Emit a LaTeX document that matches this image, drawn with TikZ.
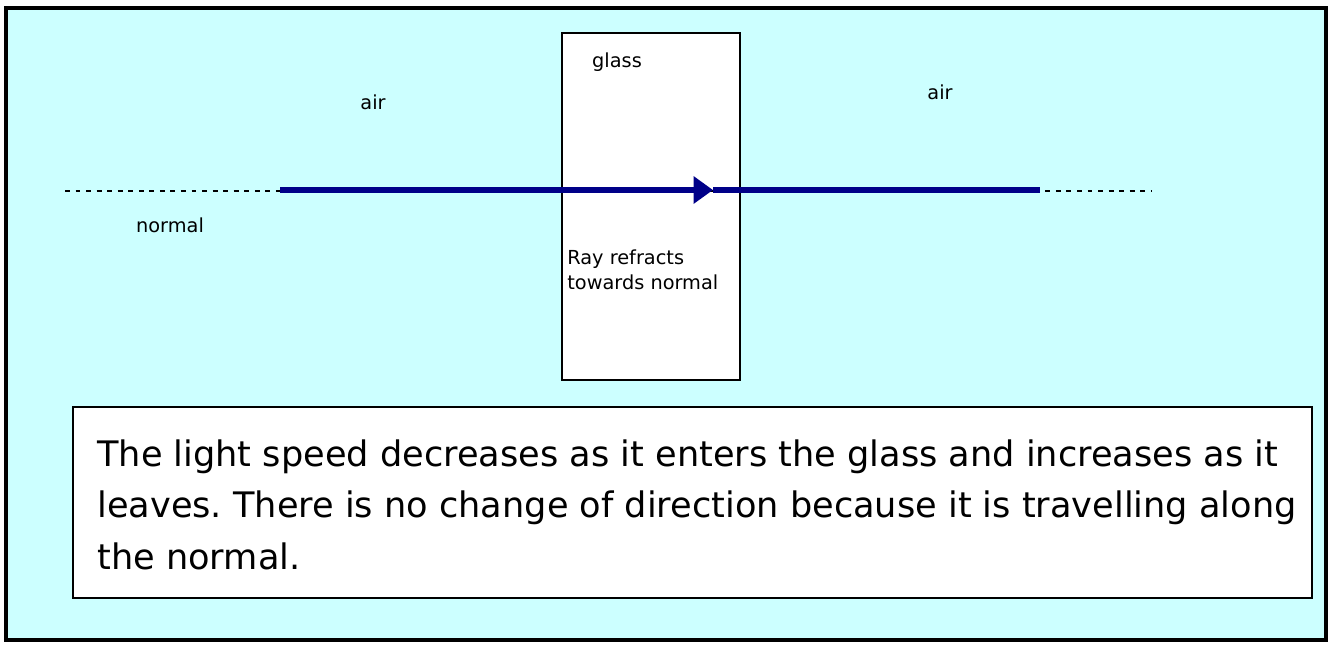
\documentclass[tikz,border=0pt]{standalone}
\usepackage{fontspec}
\setmainfont{DejaVu Sans}
\usetikzlibrary{arrows.meta}
\definecolor{bgCyan}{RGB}{204,255,255}
\definecolor{rayNavy}{RGB}{0,0,136}

\begin{document}
\begin{tikzpicture}[
    x=0.02cm, y=-0.02cm,
    frame/.style={draw=black, line width=1.8pt, fill=bgCyan},
    slab/.style={rectangle, draw=black, line width=1.4pt, fill=white, minimum width=3.56cm, minimum height=6.94cm},
    note/.style={rectangle, draw=black, line width=1.4pt, fill=white, minimum width=24.78cm, minimum height=3.82cm},
    normalline/.style={draw=black, line width=1.5pt, dash pattern=on 2.8pt off 3.2pt},
    ray/.style={draw=rayNavy, line width=3.4pt},
    label/.style={font=\fontsize{11}{14}\selectfont, inner sep=0pt}
]
\useasboundingbox (0,0) rectangle (1331,646);
% Background
\draw[frame] (6,8) rectangle (1326,640);

% Nodes
\node[slab] (glass) at (651,206.5) {};
\node[note] (box) at (692.5,502.5) {};

% Labels
\node[label] (airL) at (373,102) {air};
\node[label] (glassLbl) at (617,62) {glass};
\node[label] (airR) at (940,92) {air};
\node[label] (normLbl) at (170,225) {normal};
\node[label, anchor=west, align=left] (refr) at (567,270) {Ray refracts\\towards normal};

% Normal and ray
\coordinate (nL) at (65,191);
\coordinate (nR) at (1152,191);
\coordinate (rayL) at (280,190);
\coordinate (rayM) at (713,190);
\coordinate (rayR) at (1040,190);
\draw[normalline] (nL) -- (nR);
\draw[ray, -{Triangle[length=11pt,width=15pt]}] (rayL) -- (rayM);
\draw[ray] (rayM) -- (rayR);

% Text
\node[anchor=north west, inner sep=0pt, align=left, font=\fontsize{20}{29.5}\selectfont\frenchspacing] (txt) at (97,439)
  {The light speed decreases as it enters the glass and increases as it\\
   leaves. There is no change of direction because it is travelling along\\
   the normal.};
\end{tikzpicture}
\end{document}
